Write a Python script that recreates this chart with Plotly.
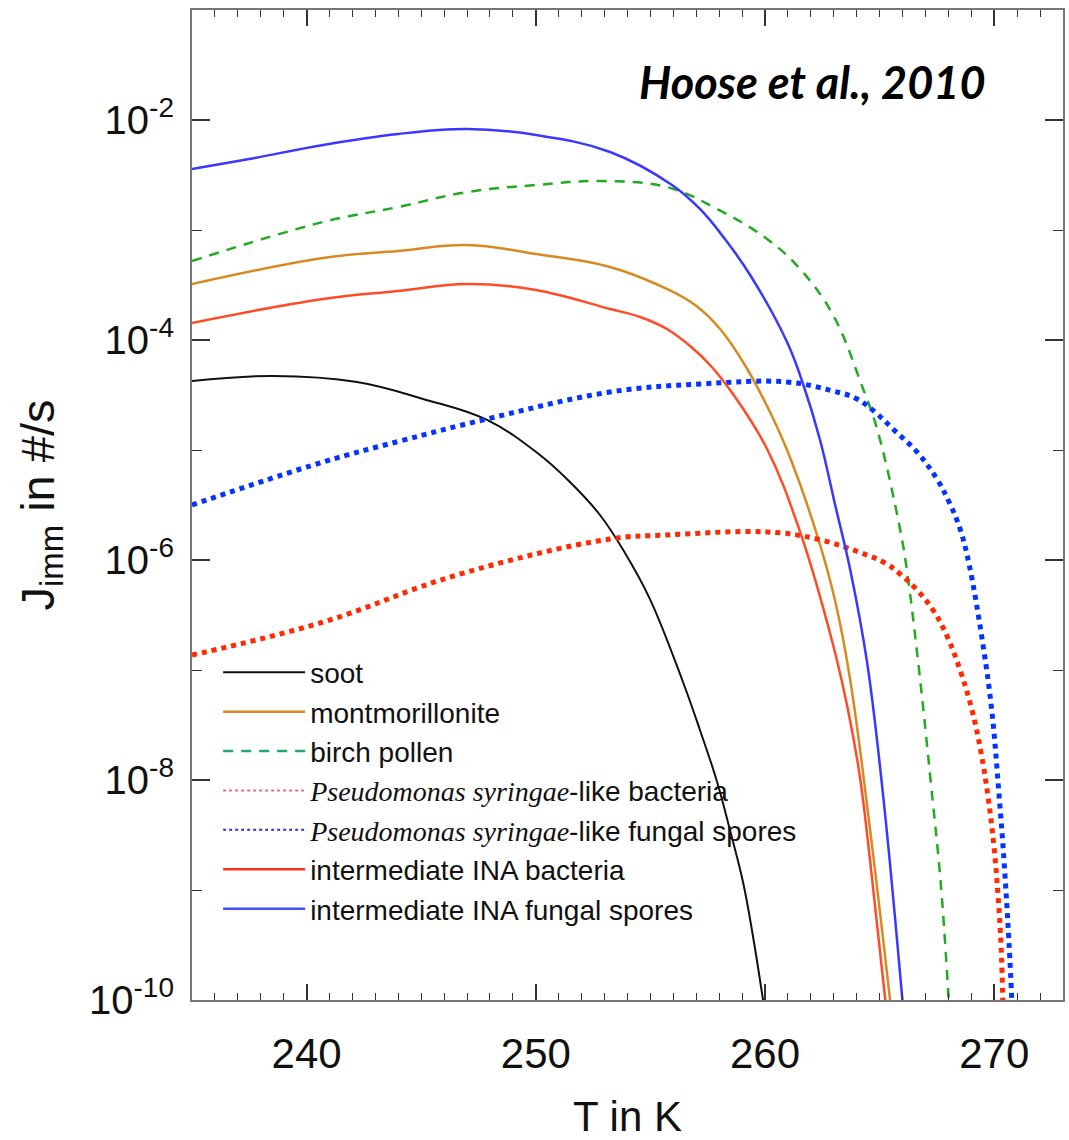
import numpy as np
import plotly.graph_objects as go

# ---- data (T in K, log10 of J_imm in #/s) ----
soot_T = [235.00, 238.53, 242.20, 245.08, 247.87, 250.18, 251.49, 252.80, 253.89, 254.98, 256.42, 257.16, 257.91, 258.47, 259.04, 259.48, 259.96]
soot_logJ = [-4.373, -4.327, -4.382, -4.536, -4.727, -5.045, -5.291, -5.591, -5.936, -6.355, -7.109, -7.545, -8.018, -8.455, -8.927, -9.427, -10.064]

mont_T = [235.00, 240.72, 243.99, 247.00, 250.01, 253.24, 255.72, 256.95, 258.04, 259.04, 260.00, 260.96, 262.27, 263.05, 263.71, 264.58, 265.49]
mont_logJ = [-3.491, -3.255, -3.191, -3.136, -3.218, -3.336, -3.536, -3.682, -3.900, -4.200, -4.564, -5.000, -5.773, -6.364, -7.082, -8.445, -10.064]

birch_T = [235.00, 240.72, 243.99, 247.00, 250.01, 252.80, 255.72, 257.91, 260.09, 261.53, 262.97, 264.28, 264.89, 265.89, 266.20, 266.72, 267.24, 267.68, 268.03]
birch_logJ = [-3.282, -2.927, -2.791, -2.655, -2.591, -2.555, -2.609, -2.809, -3.082, -3.355, -3.773, -4.445, -4.809, -5.718, -6.109, -7.000, -8.036, -8.973, -10.064]

psb_T = [235.00, 240.72, 246.56, 253.24, 255.72, 260.09, 262.27, 264.45, 265.24, 265.89, 266.63, 267.33, 267.94, 268.51, 269.03, 269.42, 269.73, 269.99, 270.17, 270.30, 270.38]
psb_logJ = [-6.864, -6.564, -6.136, -5.809, -5.773, -5.745, -5.809, -5.955, -6.027, -6.127, -6.273, -6.455, -6.691, -7.000, -7.364, -7.745, -8.155, -8.609, -9.064, -9.518, -10.064]

psf_T = [235.00, 240.72, 244.08, 247.87, 253.24, 257.16, 260.96, 262.97, 263.93, 264.80, 265.58, 266.63, 267.50, 268.07, 268.51, 268.90, 269.51, 269.90, 270.21, 270.43, 270.65, 270.78]
psf_logJ = [-5.500, -5.109, -4.918, -4.718, -4.473, -4.400, -4.382, -4.464, -4.527, -4.655, -4.809, -5.018, -5.264, -5.491, -5.718, -6.036, -6.773, -7.382, -8.136, -8.745, -9.500, -10.064]

inab_T = [235.00, 240.72, 243.99, 247.00, 250.01, 253.24, 254.55, 255.72, 256.73, 257.60, 258.60, 260.09, 261.53, 262.97, 263.62, 264.14, 264.58, 265.28]
inab_logJ = [-3.845, -3.627, -3.555, -3.491, -3.545, -3.718, -3.791, -3.900, -4.055, -4.227, -4.491, -4.991, -5.745, -6.773, -7.364, -7.973, -8.727, -10.064]

inaf_T = [235.00, 237.49, 240.72, 243.99, 247.00, 250.01, 253.24, 255.94, 257.16, 258.25, 259.35, 260.96, 261.66, 262.40, 263.05, 263.71, 264.45, 265.15, 266.02]
inaf_logJ = [-2.445, -2.355, -2.227, -2.127, -2.082, -2.136, -2.291, -2.591, -2.809, -3.082, -3.409, -4.018, -4.400, -4.909, -5.491, -6.082, -6.927, -8.136, -10.064]

x_tick_vals = [240, 250, 260, 270]
y_tick_exps = [-10, -8, -6, -4, -2]
y_minor_exps = [-9, -7, -5, -3]

PS = '<span style="font-family:\'Liberation Serif\';font-style:italic">Pseudomonas syringae</span>'
names = ["soot", "montmorillonite", "birch pollen",
         PS + "-like bacteria", PS + "-like fungal spores",
         "intermediate INA bacteria", "intermediate INA fungal spores"]

# ---- styles ----
series = [
    (soot_T, soot_logJ, dict(color="#111111", width=2)),
    (mont_T, mont_logJ, dict(color="#D68A1F", width=2.5)),
    (birch_T, birch_logJ, dict(color="#22AA22", width=2.5, dash="10px,8px")),
    (psb_T, psb_logJ, dict(color="#FF2A00", width=5, dash="dot")),
    (psf_T, psf_logJ, dict(color="#0533FF", width=5, dash="dot")),
    (inab_T, inab_logJ, dict(color="#FF4B26", width=2.5)),
    (inaf_T, inaf_logJ, dict(color="#3838FF", width=2.5)),
]
legend_styles = [
    dict(color="#111111", width=2),
    dict(color="#D68A1F", width=2.5),
    dict(color="#22AA66", width=2.5, dash="10px,8px"),
    dict(color="#E07080", width=2, dash="dot"),
    dict(color="#3030CC", width=2, dash="dot"),
    dict(color="#FF3020", width=2.5),
    dict(color="#4848FF", width=2.5),
]

fig = go.Figure()
for (T, lj, ls) in series:
    fig.add_trace(go.Scatter(x=T, y=np.power(10.0, np.array(lj)), mode="lines",
                             line=dict(shape="spline", smoothing=1.1, **ls),
                             showlegend=False, hoverinfo="skip"))
for i, (nm, ls) in enumerate(zip(names, legend_styles)):
    fig.add_trace(go.Scatter(x=[None], y=[None], mode="lines", name=nm,
                             line=ls, legendgroup=str(i), showlegend=True))

axis_common = dict(showline=True, linecolor="#777777", linewidth=2, mirror="ticks",
                   ticks="inside", tickcolor="#333333", tickwidth=1.5,
                   showgrid=False, zeroline=False, automargin=False)

fig.update_xaxes(range=[235, 273], tickvals=x_tick_vals, ticktext=[str(v) for v in x_tick_vals],
                 ticklen=16, minor=dict(dtick=1, ticklen=7, ticks="inside", tickcolor="#333333", tickwidth=1.2),
                 tickfont=dict(family="Liberation Sans", size=42, color="#111111"),
                 ticklabelstandoff=16,
                 title=dict(text="T in K", font=dict(family="Liberation Sans", size=42, color="#111111"), standoff=34),
                 **axis_common)
fig.update_yaxes(type="log", range=[-10, -1],
                 tickvals=[10.0 ** e for e in y_tick_exps],
                 ticktext=["10<sup>%d</sup>" % e for e in y_tick_exps],
                 ticklen=18,
                 minor=dict(tickmode="array", tickvals=[10.0 ** e for e in y_minor_exps], ticklen=10,
                            ticks="inside", tickcolor="#333333", tickwidth=1.2),
                 tickfont=dict(family="Liberation Sans", size=40, color="#111111"),
                 ticklabelstandoff=8,
                 title=dict(text="J<sub>imm</sub> in #/s", font=dict(family="Liberation Sans", size=47, color="#111111"), standoff=20),
                 **axis_common)

fig.add_annotation(text="<b><i>Hoose et al., 2010</i></b>", xref="paper", yref="paper",
                   x=0.712, y=0.927, xanchor="center", yanchor="middle", showarrow=False,
                   font=dict(family="Lato", size=45, color="#000000"))

fig.update_layout(
    width=1069, height=1140,
    margin=dict(l=192, r=6, t=10, b=140),
    plot_bgcolor="white", paper_bgcolor="white",
    legend=dict(x=0.030, y=0.356, xanchor="left", yanchor="top",
                bgcolor="rgba(255,255,255,0)", borderwidth=0, itemwidth=82,
                font=dict(family="Liberation Sans", size=28, color="#111111"),
                tracegroupgap=0, traceorder="normal"),
)

fig.write_html("out.html")
